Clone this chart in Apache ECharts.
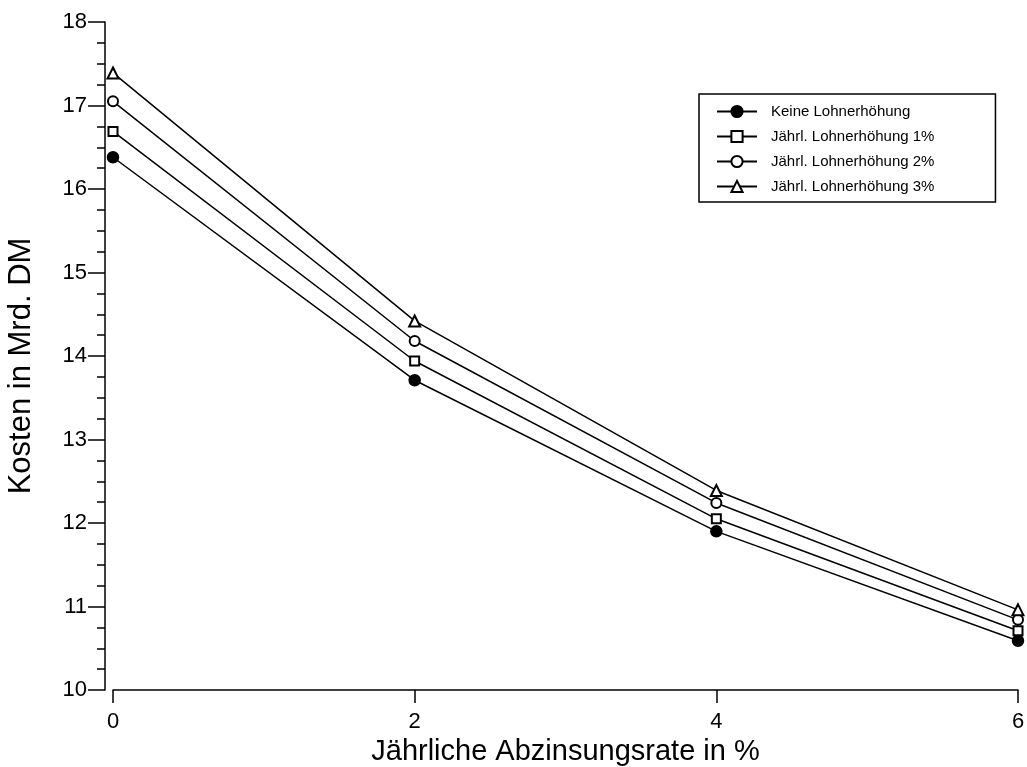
<!DOCTYPE html>
<html>
<head>
<meta charset="utf-8">
<script src="https://cdn.jsdelivr.net/npm/echarts@6/dist/echarts.min.js"></script>
<style>
  html, body { margin: 0; padding: 0; background: #fff; }
  #chart { width: 1027px; height: 767px; }
</style>
</head>
<body>
<div id="chart"></div>
<script>
// Discount rate in percent (x values)
const rates = [0, 2, 4, 6];

// Costs in billion DM per wage-growth scenario
const noRaise = [16.38, 13.71, 11.90, 10.59];
const raise1 = [16.69, 13.94, 12.05, 10.71];
const raise2 = [17.05, 14.18, 12.24, 10.84];
const raise3 = [17.39, 14.42, 12.39, 10.96];

const seriesNames = [
  'Keine Lohnerhöhung',
  'Jährl. Lohnerhöhung 1%',
  'Jährl. Lohnerhöhung 2%',
  'Jährl. Lohnerhöhung 3%'
];

const FONT = 'Liberation Sans, Arial, sans-serif';

function pairs(vals) {
  return rates.map((r, i) => [r, vals[i]]);
}

function lineSeries(name, vals, symbol, size) {
  return {
    name: name,
    type: 'line',
    data: pairs(vals),
    symbol: symbol,
    symbolSize: size,
    showAllSymbol: true,
    lineStyle: { color: '#000', width: 1.5 },
    itemStyle: { color: '#000', borderColor: '#000', borderWidth: 1.5 },
    emphasis: { disabled: true },
    animation: false
  };
}

const chart = echarts.init(document.getElementById('chart'), null, { renderer: 'canvas' });

chart.setOption({
  backgroundColor: '#fff',
  animation: false,
  grid: {
    left: 113, right: 9, top: 22, bottom: 77,
    containLabel: false,
    outerBoundsMode: 'none'
  },
  legend: {
    orient: 'vertical',
    left: 699,
    top: 94,
    itemWidth: 40,
    itemHeight: 14,
    itemGap: 10,
    padding: [10, 61, 8, 17],
    borderColor: '#000',
    borderWidth: 1.5,
    textStyle: { fontFamily: FONT, fontSize: 15, color: '#000', padding: [0, 0, 0, 9] },
    data: seriesNames
  },
  xAxis: {
    type: 'value',
    min: 0,
    max: 6,
    interval: 2,
    name: 'Jährliche Abzinsungsrate in %',
    nameLocation: 'middle',
    nameGap: 46,
    nameTextStyle: { fontFamily: FONT, fontSize: 29, color: '#000' },
    axisLine: { show: true, onZero: false, lineStyle: { color: '#000', width: 1.5 } },
    axisTick: { show: true, length: 13, lineStyle: { color: '#000', width: 1.5 } },
    axisLabel: { fontFamily: FONT, fontSize: 22, color: '#000', margin: 21 },
    splitLine: { show: false }
  },
  yAxis: {
    type: 'value',
    min: 10,
    max: 18,
    interval: 1,
    offset: 8,
    name: 'Kosten in Mrd. DM',
    nameLocation: 'middle',
    nameGap: 68,
    nameTextStyle: { fontFamily: FONT, fontSize: 31, color: '#000', padding: [0, 20, 0, 0] },
    axisLine: { show: true, onZero: false, lineStyle: { color: '#000', width: 1.5 } },
    axisTick: { show: true, length: 17, lineStyle: { color: '#000', width: 1.5 } },
    minorTick: { show: true, splitNumber: 4, length: 8, lineStyle: { color: '#000', width: 1.5 } },
    axisLabel: { fontFamily: FONT, fontSize: 22, color: '#000', margin: 18 },
    splitLine: { show: false },
    minorSplitLine: { show: false }
  },
  series: [
    lineSeries(seriesNames[0], noRaise, 'circle', 11),
    lineSeries(seriesNames[1], raise1, 'emptyRect', 9),
    lineSeries(seriesNames[2], raise2, 'emptyCircle', 10),
    lineSeries(seriesNames[3], raise3, 'emptyTriangle', 11)
  ]
});
</script>
</body>
</html>
